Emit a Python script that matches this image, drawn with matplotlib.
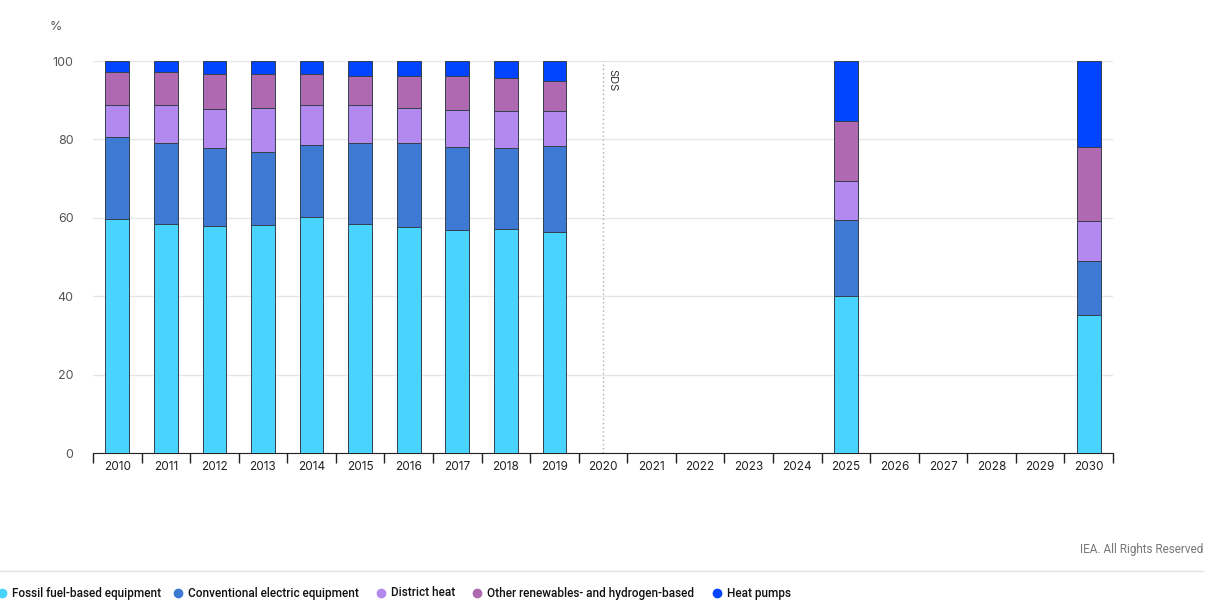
import matplotlib.pyplot as plt
import numpy as np
from matplotlib.lines import Line2D

plt.rcParams['font.family'] = ['Inter', 'DejaVu Sans']

years = [str(y) for y in range(2010, 2031)]
# share of each technology, % ; None = no data for that year
fossil = [59.6, 58.3, 57.8, 58.1, 60.1, 58.4, 57.7, 56.8, 57.1, 56.3,
          None, None, None, None, None, 40.0, None, None, None, None, 35.2]
conventional = [20.9, 20.7, 19.9, 18.7, 18.5, 20.6, 21.3, 21.2, 20.6, 21.9,
                None, None, None, None, None, 19.4, None, None, None, None, 13.9]
district = [8.4, 9.7, 10.1, 11.3, 10.1, 9.7, 9.0, 9.4, 9.5, 9.0,
            None, None, None, None, None, 9.9, None, None, None, None, 10.0]
renewables = [8.2, 8.4, 8.8, 8.5, 7.9, 7.6, 8.1, 8.7, 8.4, 7.8,
              None, None, None, None, None, 15.3, None, None, None, None, 18.9]
heatpumps = [2.9, 2.9, 3.4, 3.4, 3.4, 3.7, 3.9, 3.9, 4.4, 5.0,
             None, None, None, None, None, 15.4, None, None, None, None, 22.0]

series_names = ['Fossil fuel-based equipment', 'Conventional electric equipment',
                'District heat', 'Other renewables- and hydrogen-based', 'Heat pumps']
series = [fossil, conventional, district, renewables, heatpumps]
colors = ['#48D4FF', '#3E7AD3', '#B388EF', '#AE69B0', '#0044FF']

fig = plt.figure(figsize=(12.19, 6.10), dpi=100)
ax = fig.add_axes([93 / 1219, 1 - 453 / 610, 1020 / 1219, 392 / 610])

x = np.arange(len(years))
bottom = np.zeros(len(years))
for vals, col in zip(series, colors):
    v = np.array([np.nan if a is None else a for a in vals], dtype=float)
    ax.bar(x, np.nan_to_num(v), 0.49, bottom=bottom, color=col,
           edgecolor='#34404c', linewidth=0.7, zorder=3)
    bottom = bottom + np.nan_to_num(v)

ax.set_xlim(-0.5, len(years) - 0.5)
ax.set_ylim(0, 100)
ax.set_yticks([0, 20, 40, 60, 80, 100])
ax.grid(axis='y', color='#e6e6e6', linewidth=1, zorder=0)
ax.tick_params(axis='y', length=0, labelsize=9, labelcolor='#555555', pad=14)
ax.set_xticks(x)
ax.set_xticklabels(years)
ax.tick_params(axis='x', length=0, labelsize=8.5, labelcolor='#222222', pad=6)
ax.set_xticks(np.arange(-0.5, len(years)), minor=True)
ax.tick_params(axis='x', which='minor', length=7, width=1, color='#222222')
for s in ['top', 'right', 'left']:
    ax.spines[s].set_visible(False)
ax.spines['bottom'].set_color('#222222')

# scenario marker
ax.axvline(10, color='#b0b0b0', linestyle=(0, (1, 2)), linewidth=1, zorder=2)
ax.text(10.08, 98, 'SDS', rotation=270, ha='left', va='top', fontsize=8, color='#333333')

fig.text(50 / 1219, 1 - 27 / 610, '%', fontsize=9, color='#555555', va='center')
fig.text(1203 / 1219, 1 - 549 / 610, 'IEA. All Rights Reserved', fontsize=8.5,
         color='#777777', ha='right', va='center', family='Roboto')
fig.add_artist(Line2D([0, 1203 / 1219], [1 - 571 / 610, 1 - 571 / 610],
                      color='#e3e3e3', linewidth=1))

marker_x = [2, 178, 381, 477, 717]
for mx, name, col in zip(marker_x, series_names, colors):
    fig.add_artist(Line2D([mx / 1219], [1 - 593 / 610], marker='o', markersize=6,
                          color=col, linestyle='none'))
    fig.text((mx + 10) / 1219, 1 - 593 / 610, name, fontsize=8.5, color='#111111',
             va='center', fontweight='medium', family='Roboto')

fig.savefig('out.png', dpi=100)
